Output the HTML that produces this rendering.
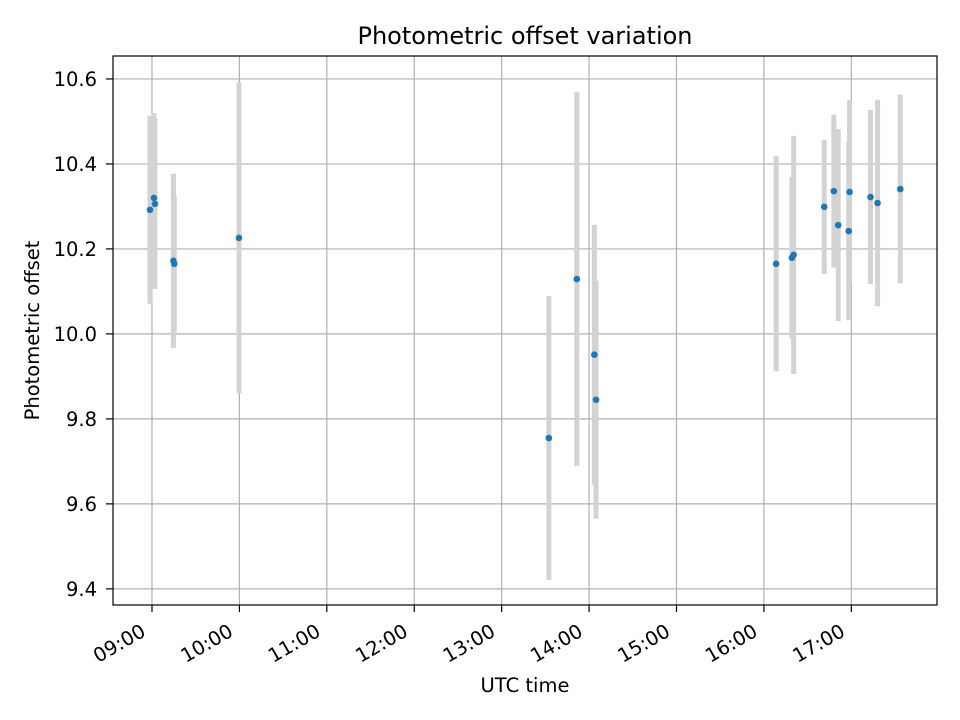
<!DOCTYPE html>
<html><head><meta charset="utf-8"><style>
body{margin:0;background:#fff}
svg{display:block;font-family:"DejaVu Sans","Liberation Sans",sans-serif}
</style></head><body>
<svg id="chart" width="960" height="720"></svg>
<script>
const times=[8.977,9.023,9.034,9.245,9.255,9.995,13.54,13.86,14.06,14.08,16.14,16.32,16.34,16.69,16.80,16.85,16.97,16.98,17.22,17.30,17.56];
const values=[10.292,10.320,10.306,10.172,10.165,10.226,9.755,10.129,9.951,9.845,10.165,10.179,10.186,10.299,10.336,10.256,10.242,10.334,10.322,10.308,10.341];
const errors=[0.221,0.2,0.2,0.205,0.16,0.366,0.334,0.44,0.306,0.28,0.253,0.19,0.28,0.158,0.18,0.226,0.21,0.217,0.205,0.243,0.222];
const yTicks=[9.4,9.6,9.8,10.0,10.2,10.4,10.6];
const xTicks=[9,10,11,12,13,14,15,16,17];
const L=113,R=937,T=56,B=605;
const xMin=8.554,xMax=17.98,yMin=9.362,yMax=10.654;
const sx=v=>L+(v-xMin)/(xMax-xMin)*(R-L);
const sy=v=>B-(v-yMin)/(yMax-yMin)*(B-T);
const svg=document.getElementById('chart');
const NS='http://www.w3.org/2000/svg';
function mk(tag,attrs,parent){const e=document.createElementNS(NS,tag);for(const k in attrs)e.setAttribute(k,attrs[k]);(parent||svg).appendChild(e);return e;}
yTicks.forEach(t=>{const y=sy(t);
 const g=mk('line',{x1:L,x2:R,y1:y,y2:y,stroke:'#b0b0b0','stroke-width':1.2});
 
 const tk=mk('line',{x1:L-7,x2:L,y1:y,y2:y,stroke:'#000','stroke-width':1.2});
 
 const tx=mk('text',{x:L-16,y:y+7,'text-anchor':'end','font-size':19.5});
 tx.textContent=t.toFixed(1);
 
});
xTicks.forEach(t=>{const x=sx(t);
 const g=mk('line',{x1:x,x2:x,y1:T,y2:B,stroke:'#b0b0b0','stroke-width':1.2});
 
 const tk=mk('line',{x1:x,x2:x,y1:B,y2:B+7,stroke:'#000','stroke-width':1.2});
 
 const ax=x-5,ay=B+30;
 const tx=mk('text',{x:ax,y:ay,'text-anchor':'end','font-size':19.5,transform:`rotate(-30 ${ax} ${ay})`});
 tx.textContent=String(t).padStart(2,'0')+':00';
 
});
times.forEach((t,i)=>{
 const b=mk('line',{x1:sx(t),x2:sx(t),y1:sy(values[i]+errors[i]),y2:sy(values[i]-errors[i]),stroke:'#d3d3d3','stroke-width':5});
 
});
times.forEach((t,i)=>{
 const c=mk('circle',{cx:sx(t),cy:sy(values[i]),r:3.3,fill:'#1f77b4'});
 
});
const fr=mk('rect',{x:L,y:T,width:R-L,height:B-T,fill:'none',stroke:'#000','stroke-width':1.2});

const ti=mk('text',{x:(L+R)/2,y:44,'text-anchor':'middle','font-size':24});
ti.textContent='Photometric offset variation';

const xl=mk('text',{x:(L+R)/2,y:692,'text-anchor':'middle','font-size':19.5});
xl.textContent='UTC time';

const yl=mk('text',{x:39,y:(T+B)/2,'text-anchor':'middle','font-size':19.5,transform:`rotate(-90 39 ${(T+B)/2})`});
yl.textContent='Photometric offset';

</script>
</body></html>
